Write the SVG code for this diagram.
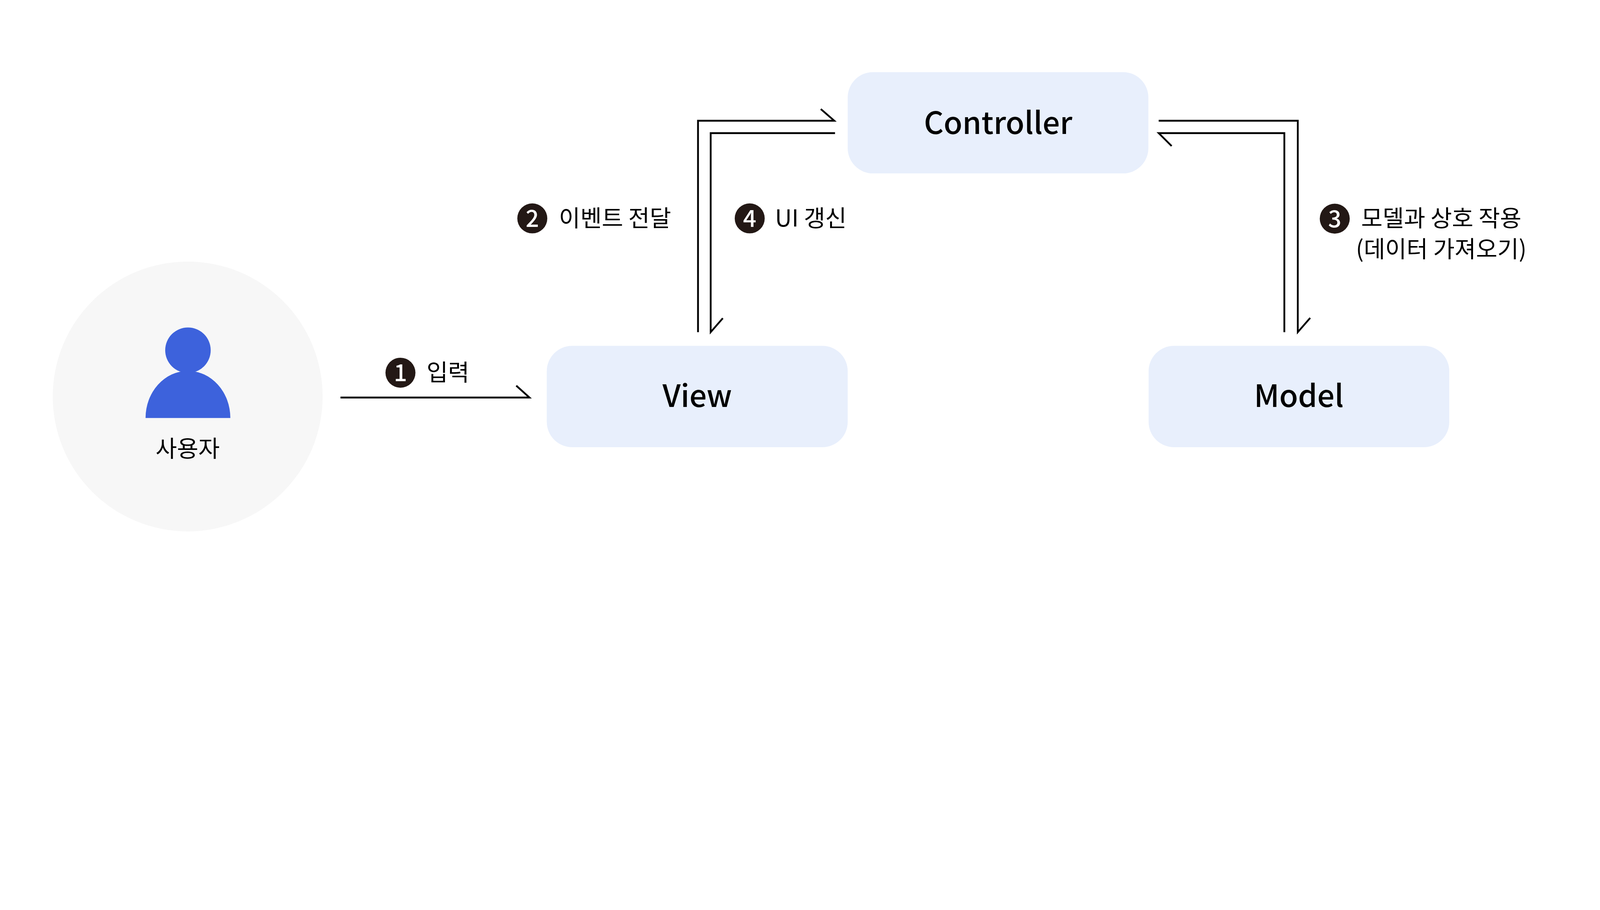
<svg xmlns="http://www.w3.org/2000/svg" width="6189" height="2330" viewBox="0 0 6189 2330" style="max-width:100%;height:auto">
  <style>
    .box { fill: #e8effc; }
    .title { font-family: "Noto Sans CJK KR", "Noto Sans", sans-serif; font-size: 118px; font-weight: 500; fill: #000; text-anchor: middle; }
    .label { font-family: "Noto Sans CJK KR", "Noto Sans", sans-serif; font-size: 90px; font-weight: 400; fill: #000; }
    .num { fill: #231815; }
    .numtxt { font-family: "Noto Sans CJK KR", "Noto Sans", sans-serif; font-size: 90px; font-weight: 500; fill: #fff; text-anchor: middle; }
    .conn { fill: none; stroke: #000; stroke-width: 7; stroke-linejoin: miter; stroke-linecap: butt; }
  </style>
  <rect width="6189" height="2330" fill="#ffffff"/>

  <g id="user">
    <circle cx="726" cy="1534" r="522" fill="#f7f7f7"/>
    <circle cx="727" cy="1355" r="88" fill="#3d62dc"/>
    <path d="M563,1617 A164,182 0 0 1 891,1617 Z" fill="#3d62dc"/>
    <text class="label" x="726" y="1768" text-anchor="middle">사용자</text>
  </g>

  <g id="view">
    <rect class="box" x="2115" y="1338" width="1164" height="392" rx="98" ry="98"/>
    <text class="title" x="2697" y="1574">View</text>
  </g>

  <g id="controller">
    <rect class="box" x="3279" y="279" width="1163" height="392" rx="98" ry="98"/>
    <text class="title" x="3861" y="518">Controller</text>
  </g>

  <g id="model">
    <rect class="box" x="4443" y="1338" width="1163" height="392" rx="98" ry="98"/>
    <text class="title" x="5024" y="1574">Model</text>
  </g>

  <g id="connectors">
    <path class="conn" d="M1317,1538 H2048 L1997,1492"/>
    <path class="conn" d="M2700,1285 V467 H3227 L3175,422"/>
    <path class="conn" d="M3230,515 H2749 V1285 L2796,1231"/>
    <path class="conn" d="M4482,467 H5020 V1285 L5068,1230"/>
    <path class="conn" d="M4968,1285 V515 H4482 L4532,565"/>
  </g>

  <g id="label-1">
    <circle class="num" cx="1549" cy="1442" r="58"/>
    <text class="numtxt" x="1549" y="1475">1</text>
    <text class="label" x="1650" y="1474">입력</text>
  </g>

  <g id="label-2">
    <circle class="num" cx="2059" cy="845" r="58"/>
    <text class="numtxt" x="2059" y="878">2</text>
    <text class="label" x="2162" y="877">이벤트 전달</text>
  </g>

  <g id="label-4">
    <circle class="num" cx="2900" cy="845" r="58"/>
    <text class="numtxt" x="2900" y="878">4</text>
    <text class="label" x="2998" y="877">UI 갱신</text>
  </g>

  <g id="label-3">
    <circle class="num" cx="5163" cy="846" r="58"/>
    <text class="numtxt" x="5163" y="879">3</text>
    <text class="label" x="5575" y="877" text-anchor="middle">모델과 상호 작용</text>
    <text class="label" x="5575" y="996" text-anchor="middle">(데이터 가져오기)</text>
  </g>
</svg>
